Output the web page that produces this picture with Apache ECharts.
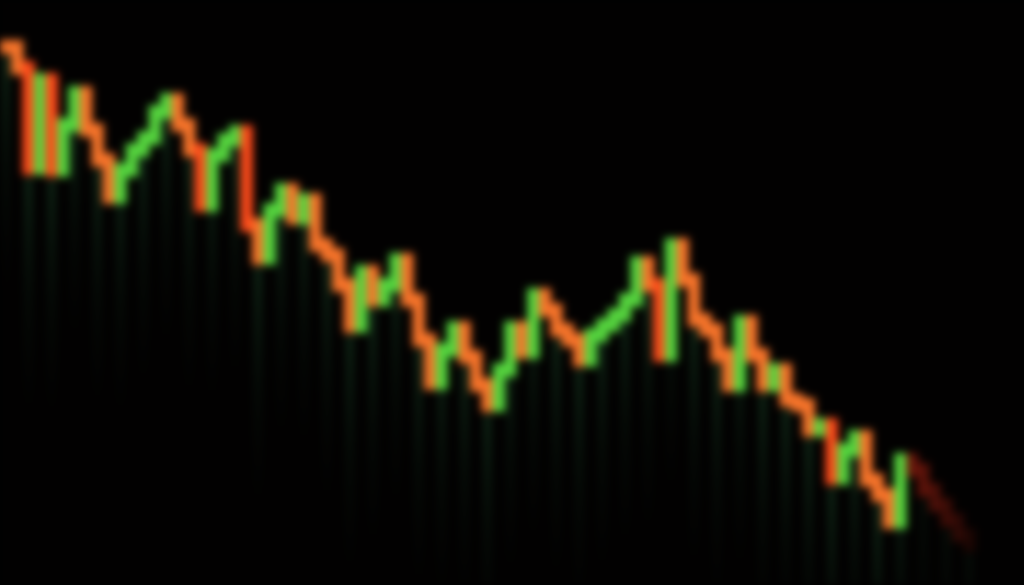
<!DOCTYPE html>
<html><head><meta charset="utf-8">
<script src="https://cdn.jsdelivr.net/npm/echarts@6/dist/echarts.min.js"></script>
<style>
html,body{margin:0;padding:0;background:#000;overflow:hidden}
#c{width:1024px;height:585px;filter:blur(4px)}
</style>
</head><body><div id="c"></div>
<script>
// price per period
const periods = Array.from({length: 85}, (_, i) => 'P' + (i + 1));
const prices = [538, 517, 417, 505, 415, 460, 492, 455, 425, 388,
                415, 435, 447, 473, 485, 460, 435, 380, 430, 445,
                453, 360, 327, 375, 395, 367, 385, 340, 330, 300,
                259, 313, 285, 300, 325, 285, 245, 202, 235, 257,
                228, 200, 180, 215, 257, 233, 290, 275, 255, 245,
                225, 250, 260, 270, 285, 322, 300, 230, 340, 305,
                265, 255, 230, 200, 263, 230, 200, 215, 185, 180,
                155, 160, 107, 135, 148, 105, 90, 63, 125, 115,
                95, 80, 65, 50, 40];

const UP = '#55d43e', DOWN = '#ff4a1a', DOWN_SOFT = '#f7742a', TAIL = '#b82614';
const FADE_FROM = 79;

const chart = echarts.init(document.getElementById('c'), null, {renderer: 'canvas'});
const data = prices.map((p, i) => [periods[i], p]);

function stepItem(params, api) {
  const i = params.dataIndex;
  const v = api.value(1);
  const prev = i > 0 ? prices[i - 1] : v;
  const p1 = api.coord([api.value(0), v]);
  const p0 = api.coord([api.value(0), prev]);
  const bw = api.size([1, 0])[0];
  const t = 14;
  const top = Math.min(p0[1], p1[1]) - t / 2;
  const bot = Math.max(p0[1], p1[1]) + t / 2;
  const diff = v - prev;
  let color = diff > 0 ? UP : (diff < -45 ? DOWN : DOWN_SOFT);
  let op = 1;
  if (i >= FADE_FROM) { op = Math.max(0.15, 0.55 - (i - FADE_FROM) * 0.08); color = TAIL; }
  return {
    type: 'rect',
    shape: {x: p1[0] - bw / 2 - 0.5, y: top, width: bw + 1, height: bot - top},
    style: {fill: color, opacity: op}
  };
}

function stripeItem(params, api) {
  const i = params.dataIndex;
  if (i % 2 !== 0) return null;
  const v = api.value(1);
  const p = api.coord([api.value(0), v]);
  const len = 240;
  return {
    type: 'rect',
    shape: {x: p[0] - 4, y: p[1] + 9, width: 8, height: len},
    style: {
      fill: new echarts.graphic.LinearGradient(0, 0, 0, 1, [
        {offset: 0, color: 'rgba(28,75,42,0.5)'},
        {offset: 0.5, color: 'rgba(18,50,28,0.22)'},
        {offset: 1, color: 'rgba(10,30,15,0)'}
      ]),
      opacity: i >= FADE_FROM ? 0.3 : 1
    }
  };
}

chart.setOption({
  backgroundColor: '#020101',
  animation: false,
  grid: {left: 0, right: 49, top: 0, bottom: 0},
  xAxis: {type: 'category', data: periods, boundaryGap: true, show: false},
  yAxis: {type: 'value', min: 0, max: 585, show: false},
  series: [
    {type: 'custom', name: 'columns', data: data, renderItem: stripeItem, z: 1},
    {type: 'custom', name: 'price', data: data, renderItem: stepItem, z: 2}
  ]
});
</script>
</body></html>
